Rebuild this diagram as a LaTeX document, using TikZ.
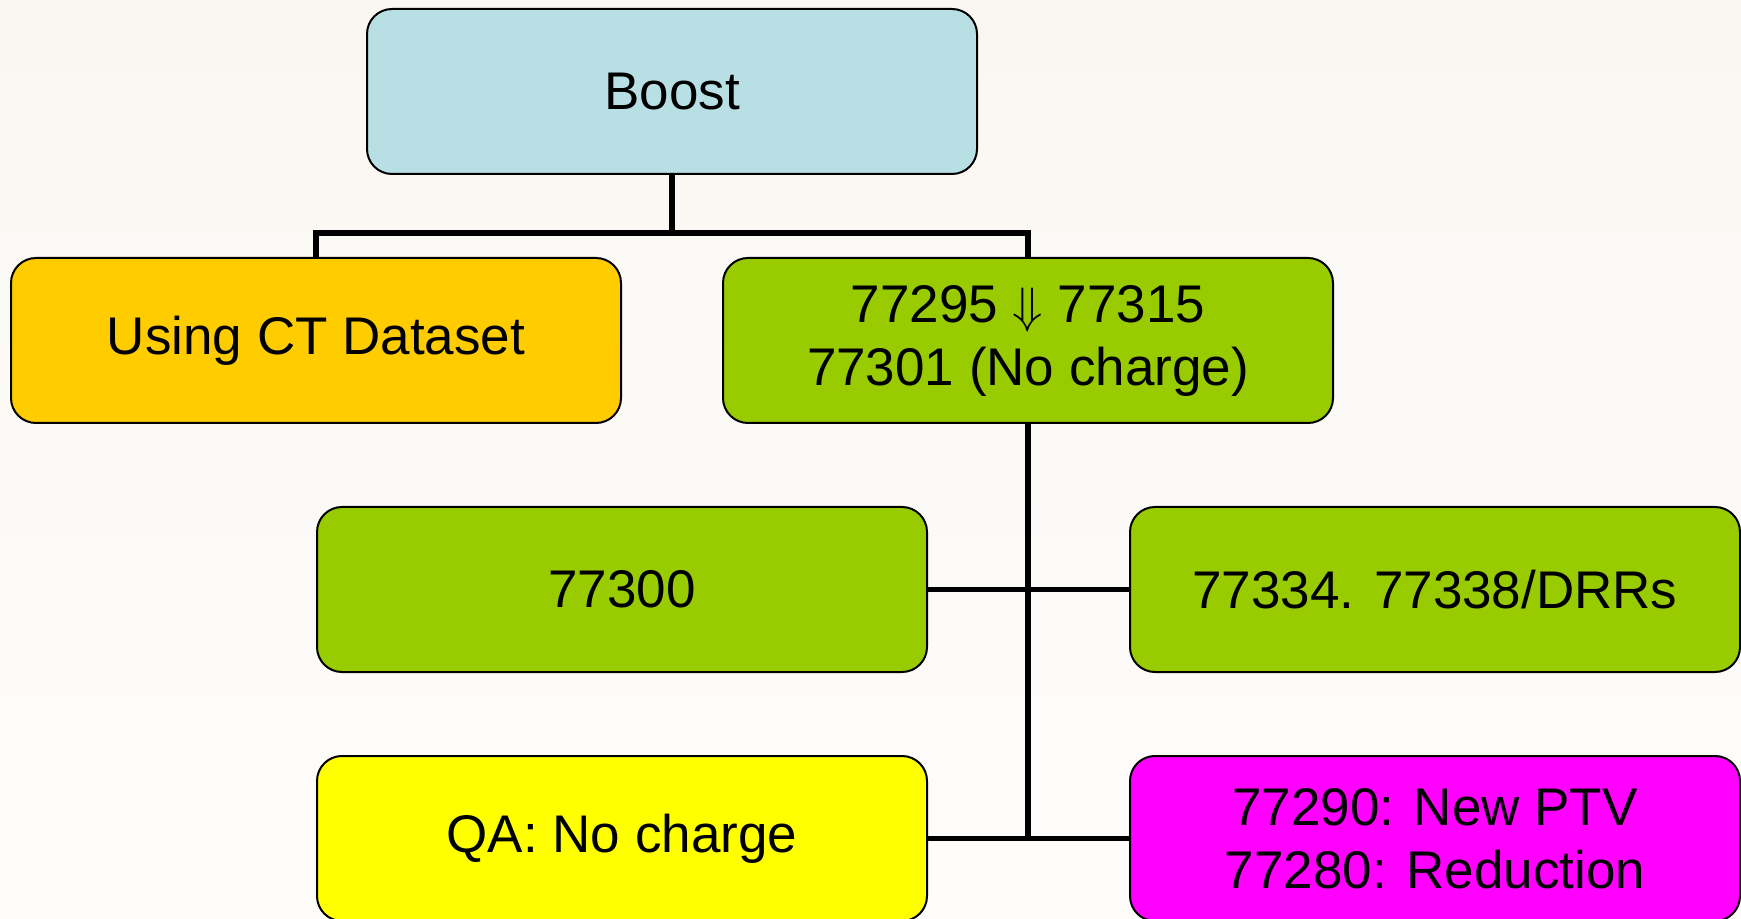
\documentclass[tikz,border=0pt]{standalone}
\usepackage{fontspec}
\setmainfont{Liberation Sans}
\usetikzlibrary{positioning,calc}

\definecolor{boostblue}{RGB}{184,224,228}
\definecolor{ctorange}{RGB}{255,204,0}
\definecolor{codegreen}{RGB}{153,204,0}
\definecolor{qayellow}{RGB}{255,255,0}
\definecolor{ptvpink}{RGB}{255,0,255}

\begin{document}
\begin{tikzpicture}[
  node distance=41pt and 0pt,
  font=\fontsize{26.5}{31.5}\selectfont,
  box/.style={rectangle, draw, line width=1pt, rounded corners=12.5pt, inner sep=2pt, align=center,
    minimum width=305pt, minimum height=82.5pt},
  link/.style={line width=2.7pt}
]
  % page with a faint warm tint
  \clip (0,0) rectangle (870.5pt,-459.5pt);
  \fill[top color={rgb,255:red,250;green,247;blue,242}, bottom color={rgb,255:red,254;green,253;blue,252}]
    (0,0) rectangle (870.5pt,-459.5pt);

  % Row 1: root
  \node[box, fill=boostblue] (boost) at (336pt,-45.75pt) {Boost};

  % Row 2: dataset and codes
  \node[box, below=of boost, xshift=-178pt, fill=ctorange] (ct) {Using CT Dataset};
  \node[box, below=of boost, xshift=178pt, fill=codegreen] (p295) {77295 $\Downarrow$ 77315\\77301 (No charge)};

  % Row 3
  \node[box, below=of p295, xshift=-203pt, fill=codegreen] (p300) {77300};
  \node[box, below=of p295, xshift=203.5pt, fill=codegreen] (p334) {77334. 77338/DRRs};

  % Row 4
  \node[box, below=of p300, fill=qayellow] (qa) {QA: No charge};
  \node[box, below=of p334, fill=ptvpink] (p290) {77290: New PTV\\77280: Reduction};

  % root -> row 2
  \coordinate (split) at ($(boost.south)+(0,-29pt)$);
  \draw[link] (boost.south) -- (split);
  \draw[link] (ct.north) |- (split) -| (p295.north);

  % trunk under the codes box, branching left and right
  \draw[link] (p295.south) -- (p295.south |- qa.east);
  \draw[link] (p300.east) -- (p300.east -| p295.south);
  \draw[link] (p334.west) -- (p334.west -| p295.south);
  \draw[link] (qa.east) -- (p290.west);
\end{tikzpicture}
\end{document}
